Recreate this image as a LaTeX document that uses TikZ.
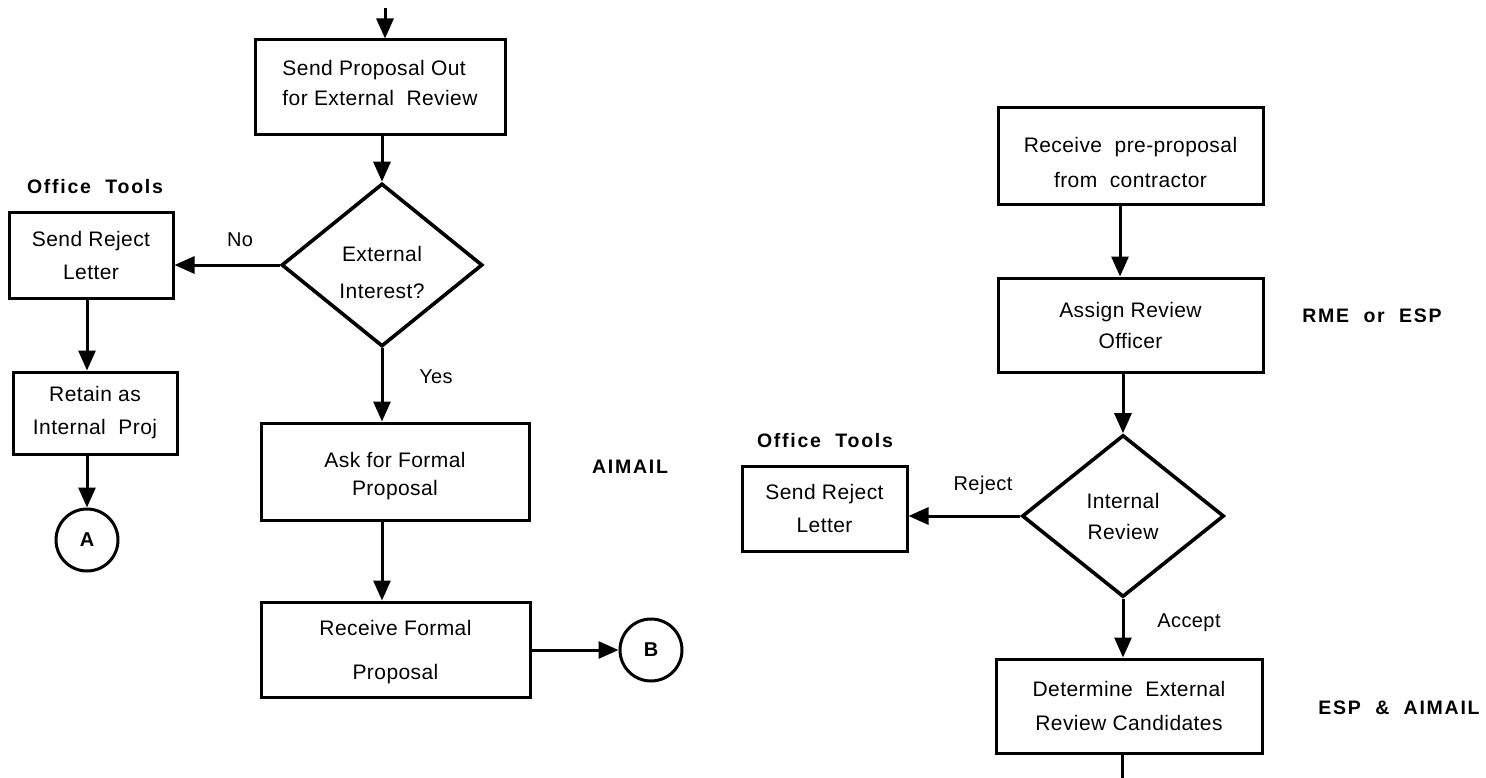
\documentclass[tikz,border=0pt]{standalone}
\usepackage{fontspec}
\setmainfont{Liberation Sans}[LetterSpace=2]
\newfontfamily\lblfont{Liberation Sans}[LetterSpace=9]
\usetikzlibrary{arrows.meta,shapes.geometric}
\newcommand{\upby}[1]{\rule[-#1pt]{0pt}{#1pt}}
\newcommand{\downby}[1]{\rule{0pt}{#1pt}}
\begin{document}
\begin{tikzpicture}[x=1pt,y=-1pt,
  box/.style={draw, rectangle, line width=3pt, inner sep=0pt, align=center},
  dec/.style={draw, diamond, line width=3.6pt, inner sep=0pt, align=center},
  conn/.style={draw, circle, line width=3pt, minimum size=62pt, inner sep=0pt,
    font=\lblfont\bfseries\fontsize{20}{20}\selectfont},
  arr/.style={line width=3pt, -{Triangle[length=20pt,width=17pt]}},
  plain/.style={line width=3pt},
  lbl/.style={inner sep=0pt, font=\lblfont\bfseries\fontsize{19.5}{19.5}\selectfont},
  tag/.style={inner sep=0pt, font=\fontsize{20}{20}\selectfont}
]
\useasboundingbox (0,0) rectangle (1486,778);

% ---------- left flow ----------
\coordinate (topin) at (385,8);
\node[box, minimum width=250pt, minimum height=95pt, align=left,
      font=\fontsize{21}{30}\selectfont] (sendout) at (380,87.5)
  {Send Proposal Out\\for External~~Review\upby{10}};
\node[dec, minimum width=201pt, minimum height=163pt,
      font=\fontsize{21}{37}\selectfont] (d1) at (382,265)
  {\downby{30}External\\Interest?};
\node[box, minimum width=164pt, minimum height=85pt,
      font=\fontsize{21}{33}\selectfont] (rej1) at (91,255.5)
  {Send Reject\\Letter};
\node[lbl] (ot1) at (95,187) {Office~~Tools};
\node[tag] (no) at (240,240) {No};
\node[box, minimum width=164pt, minimum height=82pt,
      font=\fontsize{21}{33}\selectfont] (retain) at (95,413)
  {Retain as\\Internal~~Proj};
\node[conn] (A) at (87,540) {A};
\node[tag] (yes) at (436,377) {Yes};
\node[box, minimum width=268pt, minimum height=97pt,
      font=\fontsize{21}{28}\selectfont] (ask) at (395,471.5)
  {\downby{24}Ask for Formal\\Proposal};
\node[lbl] (aimail) at (630,467) {AIMAIL};
\node[box, minimum width=269pt, minimum height=95pt,
      font=\fontsize{21}{44}\selectfont] (recf) at (395.5,649.5)
  {\downby{20}Receive Formal\\Proposal};
\node[conn] (B) at (651,650) {B};

\draw[arr] (topin) -- (topin |- sendout.north);
\draw[arr] (sendout.south -| d1.north) -- (d1.north);
\draw[arr] (d1.west) -- (d1.west -| rej1.east);
\draw[arr] (rej1.south -| A.north) -- (retain.north -| A.north);
\draw[arr] (retain.south -| A.north) -- (A.north);
\draw[arr] (d1.south) -- (d1.south |- ask.north);
\draw[arr] (ask.south -| d1.south) -- (recf.north -| d1.south);
\draw[arr] (recf.east |- B.west) -- (B.west);

% ---------- right flow ----------
\node[box, minimum width=265pt, minimum height=97pt,
      font=\fontsize{21}{35}\selectfont] (recpre) at (1130.5,156.5)
  {\downby{28}Receive~~pre-proposal\\from~~contractor};
\node[box, minimum width=265pt, minimum height=94pt,
      font=\fontsize{21}{31}\selectfont] (assign) at (1130.5,325)
  {Assign Review\\Officer};
\node[lbl] (rme) at (1372,316) {RME~~or~~ESP};
\node[dec, minimum width=202pt, minimum height=162pt,
      font=\fontsize{21}{31}\selectfont] (d2) at (1123,516)
  {Internal\\Review};
\node[lbl] (ot2) at (825,441) {Office~~Tools};
\node[box, minimum width=165pt, minimum height=85pt,
      font=\fontsize{21}{33}\selectfont] (rej2) at (824.5,508.5)
  {Send Reject\\Letter};
\node[tag] (reject) at (983,485) {Reject};
\node[tag] (accept) at (1189,623) {Accept};
\node[box, minimum width=266pt, minimum height=94pt,
      font=\fontsize{21}{34}\selectfont] (det) at (1129,706)
  {Determine~~External\\Review Candidates};
\node[lbl] (espai) at (1399,708) {ESP~~\&~~AIMAIL};
\coordinate (out) at (1122,778);

\draw[arr] (recpre.south -| 1120,0) -- (assign.north -| 1120,0);
\draw[arr] (assign.south -| d2.north) -- (d2.north);
\draw[arr] (d2.west) -- (d2.west -| rej2.east);
\draw[arr] (d2.south) -- (d2.south |- det.north);
\draw[plain] (det.south -| out) -- (out);
\end{tikzpicture}
\end{document}
